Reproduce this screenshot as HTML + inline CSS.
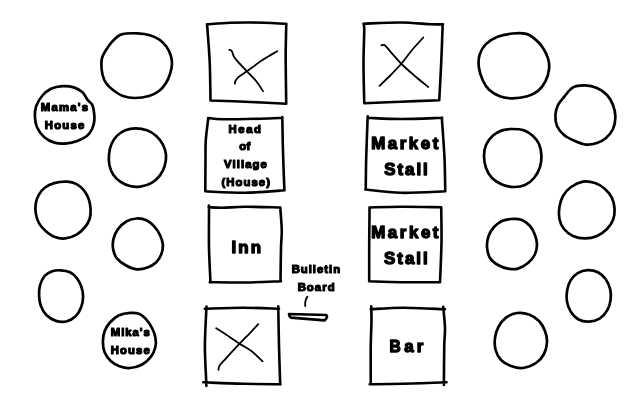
<!DOCTYPE html>
<html><head><meta charset="utf-8"><style>
html,body{margin:0;padding:0;background:#fff;width:640px;height:400px;overflow:hidden}
svg{display:block;filter:grayscale(1)}
text{font-family:"Liberation Sans",sans-serif;font-weight:bold;fill:#000;stroke:#000;stroke-linejoin:round}
</style></head><body>
<svg width="640" height="400" viewBox="0 0 640 400">
<rect width="640" height="400" fill="#fff"/>
<g fill="none" stroke="#000" stroke-width="2.7" stroke-linecap="round" stroke-linejoin="round">
<path d="M126 33.5 C128.88 33.27 133.92 33.15 137.75 33.4 C141.58 33.65 145.46 34 149 35 C152.54 36 156.17 37.57 159 39.4 C161.83 41.23 164.07 43.4 166 46 C167.93 48.6 169.6 52 170.6 55 C171.6 58 172.1 60.83 172 64 C171.9 67.17 171 70.83 170 74 C169 77.17 167.83 80.17 166 83 C164.17 85.83 161.83 88.83 159 91 C156.17 93.17 153 94.83 149 96 C145 97.17 139.33 98 135 98 C130.67 98 126.67 97.33 123 96 C119.33 94.67 115.83 92.17 113 90 C110.17 87.83 107.73 85.5 106 83 C104.27 80.5 103.37 78 102.6 75 C101.83 72 101.42 68.08 101.4 65 C101.38 61.92 101.19 59.79 102.5 56.5 C103.81 53.21 107.12 48.25 109.25 45.25 C111.38 42.25 113.38 40.24 115.25 38.5 C117.12 36.76 118.71 35.63 120.5 34.8 C122.29 33.97 123.12 33.73 126 33.5Z"/>
<path d="M62.4 86.1 C66.19 85.87 70.4 86.32 73.75 87.35 C77.1 88.38 80.17 90.12 82.5 92.25 C84.83 94.38 86.15 98.06 87.75 100.1 C89.35 102.14 91.07 102.6 92.1 104.5 C93.12 106.4 93.52 108.88 93.9 111.5 C94.28 114.12 94.7 117.33 94.4 120.25 C94.1 123.17 93.35 126.38 92.1 129 C90.85 131.62 89.38 134.02 86.9 136 C84.43 137.98 80.61 139.68 77.25 140.9 C73.89 142.12 70.54 143.06 66.75 143.35 C62.96 143.64 58.29 143.72 54.5 142.65 C50.71 141.58 46.92 139.47 44 136.9 C41.08 134.33 38.52 130.61 37 127.25 C35.48 123.89 35.05 120.25 34.9 116.75 C34.75 113.25 34.88 109.75 36.1 106.25 C37.33 102.75 39.77 98.67 42.25 95.75 C44.73 92.83 47.64 90.36 51 88.75 C54.36 87.14 58.61 86.33 62.4 86.1Z"/>
<path d="M135.6 128.4 C139.2 128.4 143.46 129.05 146.9 130.3 C150.34 131.55 153.6 133.55 156.25 135.9 C158.9 138.25 161.18 141.27 162.8 144.4 C164.43 147.53 165.68 151.12 166 154.7 C166.32 158.28 165.7 162.47 164.7 165.9 C163.7 169.33 162.18 172.48 160 175.3 C157.82 178.12 154.88 180.92 151.6 182.8 C148.32 184.68 143.9 186.07 140.3 186.6 C136.7 187.13 133.28 186.78 130 186 C126.72 185.22 123.42 183.83 120.6 181.9 C117.78 179.97 114.97 177.22 113.1 174.4 C111.23 171.58 110.08 168.28 109.4 165 C108.72 161.72 108.69 158.13 109 154.7 C109.31 151.27 109.93 147.53 111.25 144.4 C112.57 141.27 114.56 138.25 116.9 135.9 C119.24 133.55 122.18 131.55 125.3 130.3 C128.42 129.05 132 128.4 135.6 128.4Z"/>
<path d="M67.2 181.6 C70.95 181.77 73.78 182.6 76.6 184.1 C79.42 185.6 82.07 188.1 84.1 190.6 C86.12 193.1 87.67 195.97 88.75 199.1 C89.83 202.23 90.44 206.12 90.6 209.4 C90.76 212.68 90.63 215.78 89.7 218.75 C88.77 221.72 87.18 224.54 85 227.2 C82.82 229.86 79.88 232.83 76.6 234.7 C73.32 236.57 68.9 238 65.3 238.4 C61.7 238.8 58.28 238.35 55 237.1 C51.72 235.85 48.25 233.18 45.6 230.9 C42.95 228.62 40.72 226.2 39.1 223.4 C37.48 220.6 36.47 217.38 35.9 214.1 C35.33 210.82 35.27 206.88 35.7 203.75 C36.13 200.62 37 197.96 38.5 195.3 C40 192.64 42.1 189.83 44.7 187.8 C47.3 185.77 50.35 184.13 54.1 183.1 C57.85 182.07 63.45 181.43 67.2 181.6Z"/>
<path d="M136.6 218.5 C140.04 218.32 143.93 219.05 146.9 220.4 C149.87 221.75 152.22 224.17 154.4 226.6 C156.58 229.03 158.6 232.03 160 235 C161.4 237.97 162.55 241.28 162.8 244.4 C163.05 247.53 162.59 250.78 161.5 253.75 C160.41 256.72 158.68 259.86 156.25 262.2 C153.82 264.54 150.34 266.65 146.9 267.8 C143.46 268.95 139.2 269.57 135.6 269.1 C132 268.63 128.42 266.78 125.3 265 C122.18 263.22 118.93 261.05 116.9 258.4 C114.87 255.75 113.67 252.38 113.1 249.1 C112.53 245.82 112.72 242.03 113.5 238.75 C114.28 235.47 115.67 232.28 117.8 229.4 C119.92 226.53 123.12 223.32 126.25 221.5 C129.38 219.68 133.16 218.68 136.6 218.5Z"/>
<path d="M60.6 270.3 C63.57 270.46 67.33 270.95 70 272.2 C72.67 273.45 74.72 275.46 76.6 277.8 C78.47 280.14 80.17 283.12 81.25 286.25 C82.33 289.38 83.1 293.16 83.1 296.6 C83.1 300.04 82.5 303.62 81.25 306.9 C80 310.17 78.1 313.82 75.6 316.25 C73.1 318.68 69.53 320.73 66.25 321.5 C62.97 322.27 59.17 321.93 55.9 320.9 C52.62 319.87 49.1 317.8 46.6 315.3 C44.1 312.8 42.15 309.18 40.9 305.9 C39.65 302.62 39.25 299.03 39.1 295.6 C38.95 292.17 39.07 288.58 40 285.3 C40.93 282.02 42.67 278.24 44.7 275.9 C46.73 273.56 49.55 272.18 52.2 271.25 C54.85 270.32 57.63 270.14 60.6 270.3Z"/>
<path d="M130 312.9 C133.5 312.67 136.83 312.93 139.6 314.1 C142.37 315.27 144.55 317.62 146.6 319.9 C148.65 322.17 150.43 324.83 151.9 327.75 C153.37 330.67 154.82 334.19 155.4 337.4 C155.98 340.61 156.13 343.8 155.4 347 C154.67 350.2 153.19 353.68 151 356.6 C148.81 359.52 145.75 362.6 142.25 364.5 C138.75 366.4 133.79 367.71 130 368 C126.21 368.29 122.71 367.42 119.5 366.25 C116.29 365.08 113.23 363.33 110.75 361 C108.27 358.67 105.91 355.46 104.6 352.25 C103.29 349.04 102.9 345.25 102.9 341.75 C102.9 338.25 103.43 334.46 104.6 331.25 C105.77 328.04 107.57 325.12 109.9 322.5 C112.23 319.88 115.25 317.1 118.6 315.5 C121.95 313.9 126.5 313.13 130 312.9Z"/>
<path d="M512.5 33.5 C517.28 33.03 522.4 32.83 526.3 33.9 C530.2 34.97 533.07 37.48 535.9 39.9 C538.73 42.32 541.25 45.22 543.3 48.4 C545.35 51.58 547.25 55.47 548.2 59 C549.15 62.53 549.47 65.88 549 69.6 C548.53 73.32 547.23 77.75 545.4 81.3 C543.57 84.85 541 88.42 538 90.9 C535 93.38 531.65 94.97 527.4 96.2 C523.15 97.43 517.11 98.3 512.5 98.3 C507.89 98.3 503.65 97.62 499.75 96.2 C495.85 94.78 491.93 92.46 489.1 89.8 C486.27 87.14 484.45 83.97 482.75 80.25 C481.05 76.53 479.42 71.75 478.9 67.5 C478.38 63.25 478.43 58.65 479.6 54.75 C480.77 50.85 482.9 47.11 485.9 44.1 C488.9 41.09 493.17 38.47 497.6 36.7 C502.03 34.93 507.72 33.97 512.5 33.5Z"/>
<path d="M585 85.4 C589 85.5 593.33 86.4 597 88 C600.67 89.6 604.33 92.17 607 95 C609.67 97.83 611.6 101.33 613 105 C614.4 108.67 615.4 113 615.4 117 C615.4 121 614.57 125.5 613 129 C611.43 132.5 608.67 135.67 606 138 C603.33 140.33 600.33 141.9 597 143 C593.67 144.1 589.67 144.93 586 144.6 C582.33 144.27 578.67 142.6 575 141 C571.33 139.4 567 137.5 564 135 C561 132.5 558.43 129.33 557 126 C555.57 122.67 555.23 118.5 555.4 115 C555.57 111.5 556.57 108 558 105 C559.43 102 561.5 99.93 564 97 C566.5 94.07 569.5 89.33 573 87.4 C576.5 85.47 581 85.3 585 85.4Z"/>
<path d="M512 129 C515.67 129 520.5 129.23 524 130.4 C527.5 131.57 530.5 133.73 533 136 C535.5 138.27 537.6 140.83 539 144 C540.4 147.17 541.23 151.17 541.4 155 C541.57 158.83 541.23 163.17 540 167 C538.77 170.83 536.5 175 534 178 C531.5 181 528.33 183.5 525 185 C521.67 186.5 517.83 187.1 514 187 C510.17 186.9 505.67 185.9 502 184.4 C498.33 182.9 494.67 180.73 492 178 C489.33 175.27 487.33 171.67 486 168 C484.67 164.33 484 159.83 484 156 C484 152.17 484.5 148.4 486 145 C487.5 141.6 490.33 138.03 493 135.6 C495.67 133.17 498.83 131.5 502 130.4 C505.17 129.3 508.33 129 512 129Z"/>
<path d="M583 181.6 C587 180.93 591.33 181.77 595 183 C598.67 184.23 602.17 186.5 605 189 C607.83 191.5 610.4 194.67 612 198 C613.6 201.33 614.43 205.33 614.6 209 C614.77 212.67 614.27 216.67 613 220 C611.73 223.33 609.67 226.33 607 229 C604.33 231.67 600.67 234.43 597 236 C593.33 237.57 589 238.4 585 238.4 C581 238.4 576.5 237.57 573 236 C569.5 234.43 566.27 231.83 564 229 C561.73 226.17 560.17 222.67 559.4 219 C558.63 215.33 558.8 210.83 559.4 207 C560 203.17 561.07 199.33 563 196 C564.93 192.67 567.67 189.4 571 187 C574.33 184.6 579 182.27 583 181.6Z"/>
<path d="M511 219 C514.33 218.83 518.83 218.83 522 220 C525.17 221.17 527.83 223.5 530 226 C532.17 228.5 533.83 231.83 535 235 C536.17 238.17 537.07 241.67 537 245 C536.93 248.33 536.1 252 534.6 255 C533.1 258 530.77 260.73 528 263 C525.23 265.27 521.33 267.67 518 268.6 C514.67 269.53 511.33 269.2 508 268.6 C504.67 268 501 266.77 498 265 C495 263.23 491.83 261 490 258 C488.17 255 487.23 250.67 487 247 C486.77 243.33 487.43 239.33 488.6 236 C489.77 232.67 491.77 229.5 494 227 C496.23 224.5 499.17 222.33 502 221 C504.83 219.67 507.67 219.17 511 219Z"/>
<path d="M587.4 270.15 C590.76 270.01 594.84 270.73 597.9 272.25 C600.96 273.77 603.72 276.48 605.75 279.25 C607.78 282.02 609.28 285.54 610.1 288.9 C610.92 292.26 611.08 295.9 610.65 299.4 C610.22 302.9 609.34 306.7 607.5 309.9 C605.66 313.1 602.67 316.65 599.6 318.6 C596.53 320.55 592.6 321.45 589.1 321.6 C585.6 321.75 581.66 321.17 578.6 319.5 C575.54 317.83 572.7 314.67 570.75 311.6 C568.8 308.53 567.48 304.74 566.9 301.1 C566.32 297.46 566.61 293.25 567.25 289.75 C567.89 286.25 569 282.88 570.75 280.1 C572.5 277.33 574.98 274.76 577.75 273.1 C580.52 271.44 584.04 270.29 587.4 270.15Z"/>
<path d="M517 313 C520.83 312.47 525.33 313.07 529 314.4 C532.67 315.73 536.33 318.23 539 321 C541.67 323.77 543.67 327.5 545 331 C546.33 334.5 547.17 338.17 547 342 C546.83 345.83 545.83 350.5 544 354 C542.17 357.5 539.5 360.67 536 363 C532.5 365.33 527.17 367.5 523 368 C518.83 368.5 514.67 367.33 511 366 C507.33 364.67 503.57 362.67 501 360 C498.43 357.33 496.6 353.67 495.6 350 C494.6 346.33 494.53 341.83 495 338 C495.47 334.17 496.57 330.4 498.4 327 C500.23 323.6 502.9 319.93 506 317.6 C509.1 315.27 513.17 313.53 517 313Z"/>
</g>
<g fill="none" stroke="#000" stroke-width="2.6" stroke-linecap="round" stroke-linejoin="round">
<path d="M207 24.3 C210.83 24.05 222.5 23.1 230 22.8 C237.5 22.5 242.62 22.35 252 22.5 C261.38 22.65 280.58 23.5 286.3 23.7 M286.3 23.7 C286.22 27.25 285.9 38.45 285.8 45 C285.7 51.55 285.63 53.2 285.7 63 C285.77 72.8 286.12 97 286.2 103.8 M286.2 103.8 C279.33 103.45 257.62 102.25 245 101.7 C232.38 101.15 216.25 100.7 210.5 100.5 M210.5 100.5 C210.38 94.25 210.25 74.75 209.75 63 C209.25 51.25 207.96 36.45 207.5 30 C207.04 23.55 207.08 25.25 207 24.3"/>
<path d="M208 118 C210.42 118.22 213.83 119.18 222.5 119.3 C231.17 119.42 250 118.95 260 118.7 C270 118.45 278.75 117.95 282.5 117.8 M282.3 117 C282.42 122.83 282.65 139.78 283 152 C283.35 164.22 284.17 183.92 284.4 190.3 M284.6 190.3 C278 190.72 258.22 192.63 245 192.8 C231.78 192.97 211.92 191.55 205.3 191.3 M205.3 191.3 C205.33 185.75 205.42 166.55 205.5 158 C205.58 149.45 205.34 146.62 205.8 140 C206.26 133.38 207.84 121.88 208.25 118.25"/>
<path d="M208.7 207.2 C211 207.3 216.45 207.88 222.5 207.8 C228.55 207.73 235.38 206.8 245 206.75 C254.62 206.7 274.38 207.38 280.25 207.5 M280.25 207.5 C280.5 211.25 281.62 223.25 281.75 230 C281.88 236.75 281.21 239.45 281 248 C280.79 256.55 280.58 275.75 280.5 281.3 M281 281.3 C275 281.5 256.88 282.35 245 282.5 C233.12 282.65 215.62 282.25 209.75 282.2 M210.5 282 C210.25 276.33 209.25 260.17 209 248 C208.75 235.83 209.05 215.8 209 209 C208.95 202.2 208.75 207.5 208.7 207.2"/>
<path d="M204.75 308.8 C211.12 308.62 230.62 307.75 243 307.75 C255.38 307.75 273 308.62 279 308.8 M278.25 306.25 C278.38 312.88 278.68 332.96 279 346 C279.32 359.04 280 378.08 280.2 384.5 M280.5 384.25 C274.25 384.18 255.88 384.12 243 383.8 C230.12 383.48 209.88 382.55 203.25 382.3 M206.3 385.3 C206.29 384.75 206.48 388.55 206.25 382 C206.02 375.45 204.86 358.58 204.9 346 C204.94 333.42 206.23 313.08 206.5 306.5"/>
<path d="M363.5 23.7 C369.75 23.5 389.75 22.4 401 22.5 C412.25 22.6 424 24 431 24.3 C438 24.6 441 24.3 443 24.3 M442.7 24.3 C442.45 30.75 441.77 50.35 441.2 63 C440.62 75.65 439.57 94 439.25 100.2 M439.25 100.2 C432.88 100.45 413.5 101.2 401 101.7 C388.5 102.2 370.38 102.95 364.25 103.2 M364.25 103.2 C364.12 96.5 363.5 75.2 363.5 63 C363.5 50.8 364.25 36.55 364.25 30 C364.25 23.45 363.62 24.75 363.5 23.7"/>
<path d="M368 117.8 C373.5 118 388.62 119 401 119 C413.38 119 435.38 118 442.25 117.8 M441.8 117.5 C442.25 124.25 443.93 145.7 444.5 158 C445.07 170.3 445.12 185.75 445.25 191.3 M445.25 191.3 C437.88 191.55 414.32 193.1 401 192.8 C387.68 192.5 371.25 190.05 365.3 189.5 M365.75 189.5 C365.82 184.25 365.88 170.2 366.2 158 C366.52 145.8 367.45 123.25 367.7 116.3"/>
<path d="M369.5 207.5 C374.75 207.38 389.05 206.8 401 206.75 C412.95 206.7 434.5 207.12 441.2 207.2 M441.2 207.2 C441.25 213 441.7 229.5 441.5 242 C441.3 254.5 440.25 275.5 440 282.2 M440 282.2 C433.5 282.2 412.8 282.35 401 282.2 C389.2 282.05 374.5 281.45 369.2 281.3 M369.2 281.3 C369.2 275.25 369.15 256.05 369.2 245 C369.25 233.95 369.45 221.25 369.5 215 C369.55 208.75 369.5 208.75 369.5 207.5"/>
<path d="M370.75 309.25 C376.12 309 390.62 307.75 403 307.75 C415.38 307.75 438 309 445 309.25 M443.2 306.7 C443.5 310.25 444.82 321.45 445 328 C445.18 334.55 444.43 336.5 444.25 346 C444.07 355.5 443.96 378.5 443.9 385 M446.5 382.3 C439.25 382.55 415.8 383.48 403 383.8 C390.2 384.12 375.25 384.18 369.7 384.25 M370.75 383.5 C370.75 377.25 370.62 356.58 370.75 346 C370.88 335.42 371.43 326.62 371.5 320 C371.57 313.38 371.25 308.54 371.2 306.25"/>
</g>
<g fill="none" stroke="#000" stroke-width="1.8" stroke-linecap="round" stroke-linejoin="round">
<path d="M229.4 49.75 C229.82 50 231.18 50.17 231.9 51.25 C232.62 52.33 232.92 54.69 233.75 56.25 C234.58 57.81 234.71 58.1 236.9 60.6 C239.09 63.1 243.68 67.81 246.9 71.25 C250.12 74.69 253.55 77.92 256.25 81.25 C258.95 84.58 261.96 89.58 263.1 91.25"/>
<path d="M277.25 51.25 C274.79 52.71 267.56 56.67 262.5 60 C257.44 63.33 250.86 68.43 246.9 71.25 C242.94 74.07 240.69 75.23 238.75 76.9 C236.81 78.57 235.88 80.11 235.25 81.25 C234.62 82.39 235.04 83.33 235 83.75"/>
<path d="M381.3 45.3 C381.8 45.25 383.35 44.6 384.3 45 C385.25 45.4 384.18 44.58 387 47.7 C389.82 50.83 396.5 58.95 401.25 63.75 C406 68.55 411 72.62 415.5 76.5 C420 80.38 426.12 85.25 428.25 87"/>
<path d="M423.3 37.5 C421.5 39.5 416.18 45.12 412.5 49.5 C408.82 53.88 405 59.38 401.25 63.75 C397.5 68.12 393.62 72.08 390 75.75 C386.38 79.42 381.25 84.12 379.5 85.8"/>
<path d="M216.2 328.3 C217.47 329.1 219.9 330.53 223.8 333.1 C227.7 335.67 235.02 340.72 239.6 343.7 C244.18 346.68 247.47 348.07 251.3 351 C255.13 353.93 260.72 359.58 262.6 361.3"/>
<path d="M258.2 324.1 C256.82 325.6 253 329.83 249.9 333.1 C246.8 336.37 243.5 339.58 239.6 343.7 C235.7 347.82 229.83 354.18 226.5 357.8 C223.17 361.42 220.93 363.4 219.6 365.4 C218.27 367.4 218.68 369.07 218.5 369.8"/>
<path d="M307.4 296.6 C305.8 298.6 304.9 301.8 305.2 306"/>
</g>
<path d="M289 314 L326.2 315 C327.8 316.2 327 318.5 324.5 320.4 L290.8 317.6 C289.6 317 289.2 315.5 289 314 Z" fill="none" stroke="#000" stroke-width="2.7" stroke-linejoin="round"/>
<text x="40.75" y="111.3" font-size="11.3" stroke-width="1.2" textLength="47.25" lengthAdjust="spacing">Mama's</text>
<text x="44.75" y="129.3" font-size="11.3" stroke-width="1.2" textLength="39.53" lengthAdjust="spacing">House</text>
<text x="110.75" y="336.4" font-size="11.3" stroke-width="1.2" textLength="39.09" lengthAdjust="spacing">Mika's</text>
<text x="110.75" y="354.2" font-size="11.3" stroke-width="1.2" textLength="39.03" lengthAdjust="spacing">House</text>
<text x="228.55" y="132.5" font-size="11.3" stroke-width="1.2" textLength="32.37" lengthAdjust="spacing">Head</text>
<text x="239.25" y="150.0" font-size="11.3" stroke-width="1.2" textLength="10.92" lengthAdjust="spacing">of</text>
<text x="224.1" y="167.8" font-size="11.3" stroke-width="1.2" textLength="42.72" lengthAdjust="spacing">Village</text>
<text x="221.4" y="186.0" font-size="11.3" stroke-width="1.2" textLength="48.56" lengthAdjust="spacing">(House)</text>
<text x="291.65" y="273.3" font-size="11.3" stroke-width="1.2" textLength="48.42" lengthAdjust="spacing">Bulletin</text>
<text x="297.65" y="291.3" font-size="11.3" stroke-width="1.2" textLength="36.89" lengthAdjust="spacing">Board</text>
<text x="231.5" y="253.2" font-size="16.9" stroke-width="1.4" textLength="29.58" lengthAdjust="spacing">Inn</text>
<text x="371.3" y="149.3" font-size="16.9" stroke-width="1.4" textLength="66.95" lengthAdjust="spacing">Market</text>
<text x="384.35" y="174.6" font-size="16.9" stroke-width="1.4" textLength="43.42" lengthAdjust="spacing">Stall</text>
<text x="371.25" y="237.55" font-size="16.9" stroke-width="1.4" textLength="67.2" lengthAdjust="spacing">Market</text>
<text x="384.0" y="263.8" font-size="16.9" stroke-width="1.4" textLength="43.67" lengthAdjust="spacing">Stall</text>
<text x="389.4" y="352.0" font-size="16.9" stroke-width="1.4" textLength="11.2" lengthAdjust="spacingAndGlyphs">B</text>
<text x="404.25" y="352.0" font-size="16.9" stroke-width="1.4" textLength="18.97" lengthAdjust="spacing">ar</text>
</svg>
</body></html>
